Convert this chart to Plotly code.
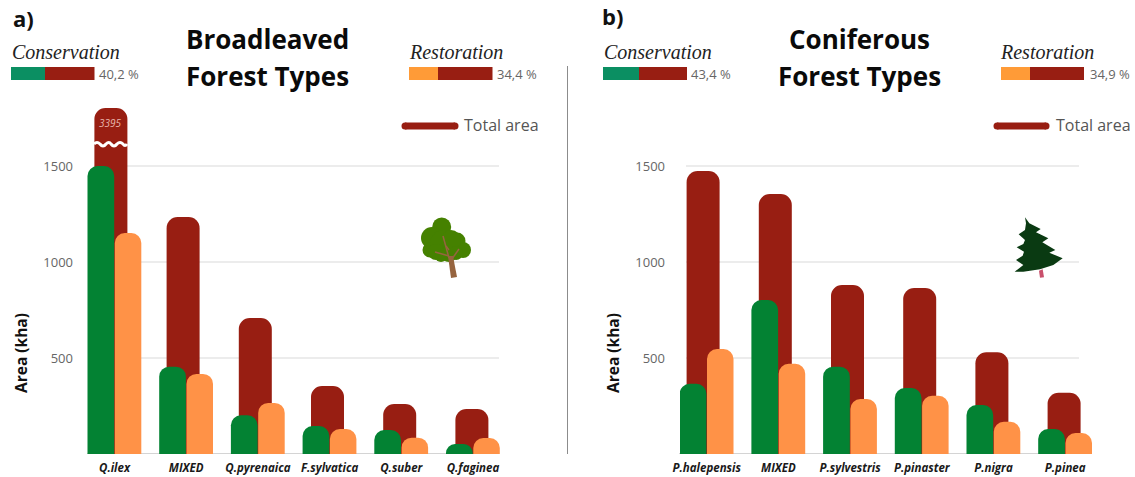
import plotly.graph_objects as go

W, H = 1135, 477

# ---- data ----
broad_types = ["Q.ilex", "MIXED", "Q.pyrenaica", "F.sylvatica", "Q.suber", "Q.faginea"]
broad_total = [1802, 1234, 708, 354, 260, 234]   # Q.ilex bar is truncated (real value 3395)
broad_cons = [1500, 455, 202, 146, 125, 52]
broad_rest = [1151, 417, 266, 130, 85, 83]

conif_types = ["P.halepensis", "MIXED", "P.sylvestris", "P.pinaster", "P.nigra", "P.pinea"]
conif_total = [1474, 1354, 880, 865, 530, 319]
conif_cons = [366, 802, 455, 344, 255, 130]
conif_rest = [547, 470, 286, 303, 168, 109]

y_ticks = [500, 1000, 1500]

RED, GREEN, ORANGE = "#981e12", "#038233", "#ff9247"
KEY_GREEN, KEY_ORANGE = "#0b8f62", "#ff9b37"
GREY = "#666666"
SANS = "Open Sans"
SERIF = "Liberation Serif"


def px(x):
    return x / W


def py(y):
    return 1 - y / H


def poly(points):
    return "M " + " L ".join(f"{px(x):.5f},{py(y):.5f}" for x, y in points) + " Z"


def rect(x0, y0, x1, y1, color):
    return dict(type="rect", xref="paper", yref="paper", x0=px(x0), x1=px(x1), y0=py(y0), y1=py(y1),
                fillcolor=color, line_width=0, layer="above")


def circle(cx, cy, r, color):
    return dict(type="circle", xref="paper", yref="paper", x0=px(cx - r), x1=px(cx + r),
                y0=py(cy - r), y1=py(cy + r), fillcolor=color, line_width=0, layer="above")


def line(pts, color, width):
    path = "M " + " L ".join(f"{px(x):.5f},{py(y):.5f}" for x, y in pts)
    return dict(type="path", xref="paper", yref="paper", path=path,
                line=dict(color=color, width=width), layer="above")


def text(x, y, s, size=12, color=GREY, family=SANS, anchor="center", angle=0):
    return dict(xref="paper", yref="paper", x=px(x), y=py(y), text=s, showarrow=False, xanchor=anchor,
                yanchor="middle", textangle=angle, font=dict(size=size, color=color, family=family))


fig = go.Figure()
STEP = 71.7
panels = [("x", "y", broad_types, broad_total, broad_cons, broad_rest),
          ("x2", "y2", conif_types, conif_total, conif_cons, conif_rest)]
for xa, ya, cats, tot, con, res in panels:
    common = dict(x=cats, xaxis=xa, yaxis=ya, cliponaxis=False, showlegend=False)
    red_offset = [(-20.1 + 0.5 * i) / STEP for i in range(len(cats))]
    fig.add_bar(y=tot, width=33 / STEP, offset=red_offset, marker=dict(color=RED, cornerradius=11), name="Total area", **common)
    fig.add_bar(y=con, width=26.7 / STEP, offset=-27 / STEP, marker=dict(color=GREEN, cornerradius=10), name="Conservation", **common)
    fig.add_bar(y=res, width=26.5 / STEP, offset=0.3 / STEP, marker=dict(color=ORANGE, cornerradius=10), name="Restoration", **common)

BASE, TOP = 454, 108
yrange = [0, (BASE - TOP) / 0.192]


def xax(left, right, centre):
    return dict(domain=[px(left), px(right)], type="category", automargin=False,
                range=[(left - centre) / STEP, (right - centre) / STEP],
                showgrid=False, ticks="", ticklabelstandoff=5, showline=False,
                tickfont=dict(family=SANS, size=11.5, color="#1a1a1a", weight=700, style="italic"))


def yax(xref, standoff):
    return dict(domain=[py(BASE), py(TOP)], range=yrange, tickvals=y_ticks, ticks="", showline=False, automargin=False,
                showgrid=False, zeroline=False, anchor=xref, ticklabelstandoff=standoff,
                tickfont=dict(family=SANS, size=13, color=GREY))


def grid(yref, x0, x1):
    # horizontal rules span narrower than the bars at the panel edges
    out = [dict(type="line", xref="paper", yref=yref, x0=px(x0), x1=px(x1), y0=v, y1=v,
                line=dict(color="#e6e6e6", width=1.5), layer="below") for v in y_ticks]
    out.append(dict(type="line", xref="paper", yref=yref, x0=px(x0 - 7), x1=px(x1), y0=0, y1=0,
                    line=dict(color="#d4d4d4", width=2), layer="below"))
    return out


shapes = grid("y", 94, 499) + grid("y2", 686, 1079) + [
    # divider
    dict(type="line", xref="paper", yref="paper", x0=px(567.5), x1=px(567.5), y0=py(66), y1=py(454),
         line=dict(color="#8c8c8c", width=1), layer="above"),
    # legend keys
    rect(11, 67, 45, 80, KEY_GREEN), rect(45, 67, 94.5, 80, RED),
    rect(409, 67, 438, 80, KEY_ORANGE), rect(438, 67, 492.5, 80, RED),
    rect(603, 67, 639, 80, KEY_GREEN), rect(639, 67, 687, 80, RED),
    rect(1001, 67, 1030, 80, KEY_ORANGE), rect(1030, 67, 1084, 80, RED),
    # total-area keys (rounded ends)
    rect(405, 122.5, 455, 129.5, RED), circle(405, 126, 3.5, RED), circle(455, 126, 3.5, RED),
    rect(997, 122.5, 1046, 129.5, RED), circle(997, 126, 3.5, RED), circle(1046, 126, 3.5, RED),
    # axis-break wave on the Q.ilex bar
    dict(type="path", xref="paper", yref="paper", layer="above", line=dict(color="white", width=3),
         path="M " + " ".join(
             (f"{px(a):.5f},{py(b):.5f}" if i == 0 else f"Q {px(a):.5f},{py(b):.5f} {px(c):.5f},{py(d):.5f}")
             for i, (a, b, c, d) in enumerate([(94, 144, 94, 144), (97, 141, 100, 144), (103, 148, 106, 144),
                                               (109, 141, 111, 144), (114, 148, 117, 144), (120, 141, 123, 144),
                                               (125, 147, 127, 144)]))),
]

# broadleaf tree icon
CROWN = "#458100"
for cx, cy, r in [(441.7, 227, 9.5), (432, 238, 11), (430, 250, 7.5), (444, 244, 14), (457, 241, 8.5),
                  (463, 250, 8), (449, 254, 8), (436, 252, 8), (451, 240, 10), (441, 256, 6), (456, 253, 7)]:
    shapes.append(circle(cx, cy, r, CROWN))
TRUNK = "#96643f"
shapes.append(dict(type="path", xref="paper", yref="paper", path=poly([(448, 256), (453, 256), (457, 277), (451, 278)]),
                   fillcolor=TRUNK, line_width=0, layer="above"))
for seg in [[(443, 236), (449, 258)], [(435, 252), (449, 256)], [(459, 249), (452, 259)], [(446, 246), (449, 250)]]:
    shapes.append(line(seg, TRUNK, 1.5))

# conifer icon (pixel outline from zoomed crop)
pine = [(105, 52), (118, 70), (152, 87), (138, 97), (175, 115), (157, 127), (196, 150), (178, 158), (218, 175),
        (190, 195), (150, 208), (100, 215), (74, 215), (100, 195), (78, 180), (98, 167), (102, 155), (80, 142),
        (100, 132), (105, 120), (86, 103), (105, 90), (108, 70)]
trunk = [(147, 212), (158, 208), (162, 232), (150, 233)]
to_abs = lambda pts: [(990 + x / 3, 200 + y / 3) for x, y in pts]
shapes.append(dict(type="path", xref="paper", yref="paper", path=poly(to_abs(trunk)), fillcolor="#c9506c", line_width=0, layer="above"))
shapes.append(dict(type="path", xref="paper", yref="paper", path=poly(to_abs(pine)), fillcolor="#0a3a12", line_width=0, layer="above"))

annotations = [
    text(11, 18, "<b>a)</b>", 22, "#111111", anchor="left"),
    text(600, 16, "<b>b)</b>", 22, "#111111", anchor="left"),
    text(267, 39, "<b>Broadleaved</b>", 26, "#0a0a0a"),
    text(267, 76, "<b>Forest Types</b>", 26, "#0a0a0a"),
    text(859, 39, "<b>Coniferous</b>", 26, "#0a0a0a"),
    text(859, 76, "<b>Forest Types</b>", 26, "#0a0a0a"),
    text(10, 52, "<i>Conservation</i>", 20, "#222222", SERIF, "left"),
    text(407, 52, "<i>Restoration</i>", 20, "#222222", SERIF, "left"),
    text(602, 52, "<i>Conservation</i>", 20, "#222222", SERIF, "left"),
    text(998, 52, "<i>Restoration</i>", 20, "#222222", SERIF, "left"),
    text(97, 74, "40,2 %", 13, anchor="left"),
    text(495, 74, "34,4 %", 13, anchor="left"),
    text(689, 74, "43,4 %", 13, anchor="left"),
    text(1088, 74, "34,9 %", 13, anchor="left"),
    text(462, 125, "Total area", 16, "#555555", anchor="left"),
    text(1054, 125, "Total area", 16, "#555555", anchor="left"),
    text(110.5, 123, "<i>3395</i>", 10, "#e8b7ae"),
    text(21, 353, "<b>Area (kha)</b>", 15.5, "#111111", angle=-90),
    text(613, 353, "<b>Area (kha)</b>", 15.5, "#111111", angle=-90),
]

fig.update_layout(
    width=W, height=H, margin=dict(l=0, r=0, t=0, b=0, pad=0),
    paper_bgcolor="white", plot_bgcolor="rgba(0,0,0,0)",
    barmode="overlay", showlegend=False,
    xaxis=xax(87, 503, 114.5), yaxis=yax("x", 13),
    xaxis2=xax(680, 1094, 706.7), yaxis2=yax("x2", 14),
    shapes=shapes, annotations=annotations,
)
fig.update_traces(opacity=1, marker_line_width=0)
fig.write_html("out.html", config=dict(displayModeBar=False),
               post_script="document.body.style.margin='0';document.body.style.overflow='hidden';")
